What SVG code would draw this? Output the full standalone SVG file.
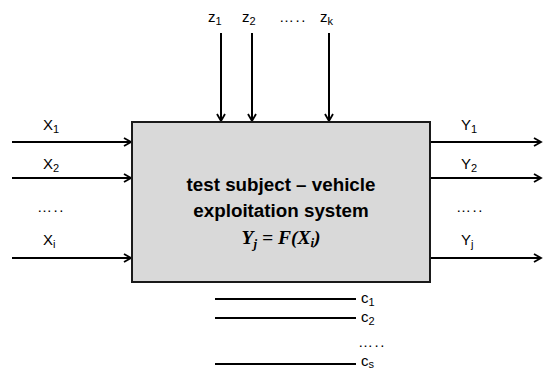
<svg xmlns="http://www.w3.org/2000/svg" width="543" height="372" viewBox="0 0 543 372">
<style>
.lbl{font-family:"Liberation Sans",Arial,sans-serif;font-size:15px;fill:#000}
.dots{letter-spacing:1.5px}
.sub{font-size:11px}
.ttl{font-family:"Liberation Sans",Arial,sans-serif;font-size:18.8px;font-weight:bold;fill:#000;text-anchor:middle}
.math{font-family:"Liberation Serif","Times New Roman",serif;font-size:19.5px;font-weight:bold;font-style:italic;fill:#000;text-anchor:middle}
.ln{stroke:#000;stroke-width:2;fill:none}
</style>
<defs>
<marker id="ah" markerWidth="10" markerHeight="10" refX="8" refY="5" orient="auto" markerUnits="userSpaceOnUse">
<polyline points="1,1 8,5 1,9" fill="none" stroke="#000" stroke-width="1.8"/>
</marker>
</defs>
<g id="connectors">
<line class="ln" x1="12" y1="142" x2="131" y2="142" marker-end="url(#ah)"/>
<line class="ln" x1="12" y1="178" x2="131" y2="178" marker-end="url(#ah)"/>
<line class="ln" x1="12" y1="258" x2="131" y2="258" marker-end="url(#ah)"/>
<line class="ln" x1="431" y1="142" x2="541" y2="142" marker-end="url(#ah)"/>
<line class="ln" x1="431" y1="178" x2="541" y2="178" marker-end="url(#ah)"/>
<line class="ln" x1="431" y1="258" x2="541" y2="258" marker-end="url(#ah)"/>
<line class="ln" x1="221" y1="33" x2="221" y2="121" marker-end="url(#ah)"/>
<line class="ln" x1="252" y1="33" x2="252" y2="121" marker-end="url(#ah)"/>
<line class="ln" x1="329" y1="33" x2="329" y2="121" marker-end="url(#ah)"/>
<line class="ln" x1="215" y1="299" x2="356" y2="299"/>
<line class="ln" x1="215" y1="318" x2="356" y2="318"/>
<line class="ln" x1="215" y1="364" x2="356" y2="364"/>
</g>
<g id="system">
<rect x="132" y="122" width="298" height="160" fill="#d9d9d9" stroke="#1a1a1a" stroke-width="2"/>
<text class="ttl" x="281" y="191">test subject – vehicle</text>
<text class="ttl" x="281" y="217">exploitation system</text>
<text class="math" x="281" y="244">Y<tspan dy="4" font-size="13">j</tspan><tspan dy="-4"> = F(X</tspan><tspan dy="3" font-size="13">i</tspan><tspan dy="-3">)</tspan></text>
</g>
<g id="inputs">
<text class="lbl" x="43" y="130">X<tspan class="sub" dy="3">1</tspan></text>
<text class="lbl" x="43" y="169">X<tspan class="sub" dy="3">2</tspan></text>
<text class="lbl dots" x="37" y="212">…..</text>
<text class="lbl" x="43" y="245">X<tspan class="sub" dy="3">i</tspan></text>
</g>
<g id="outputs">
<text class="lbl" x="461" y="130">Y<tspan class="sub" dy="3">1</tspan></text>
<text class="lbl" x="461" y="169">Y<tspan class="sub" dy="3">2</tspan></text>
<text class="lbl dots" x="456" y="212">…..</text>
<text class="lbl" x="461" y="245">Y<tspan class="sub" dy="3">j</tspan></text>
</g>
<g id="disturbances">
<text class="lbl" x="208" y="22">z<tspan class="sub" dy="3">1</tspan></text>
<text class="lbl" x="242" y="22">z<tspan class="sub" dy="3">2</tspan></text>
<text class="lbl dots" x="279" y="22">…..</text>
<text class="lbl" x="320" y="22">z<tspan class="sub" dy="3">k</tspan></text>
</g>
<g id="constants">
<text class="lbl" x="361" y="303">c<tspan class="sub" dy="3">1</tspan></text>
<text class="lbl" x="361" y="322">c<tspan class="sub" dy="3">2</tspan></text>
<text class="lbl dots" x="358" y="347">…..</text>
<text class="lbl" x="361" y="366">c<tspan class="sub" dy="2">s</tspan></text>
</g>
</svg>
